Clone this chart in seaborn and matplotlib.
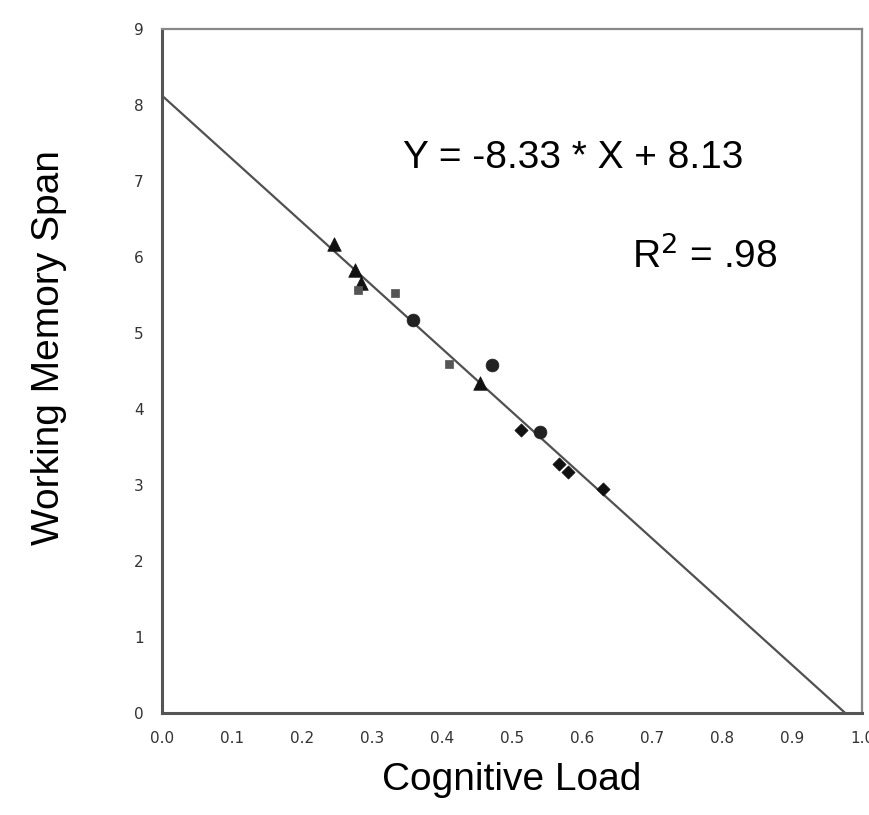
import numpy as np
import pandas as pd
import seaborn as sns
import matplotlib.pyplot as plt

# data (cognitive load vs working memory span)
tri_x = [0.246, 0.276, 0.284, 0.454]
tri_y = [6.18, 5.83, 5.66, 4.34]
sq_x = [0.280, 0.333, 0.410]
sq_y = [5.57, 5.53, 4.60]
circ_x = [0.358, 0.471, 0.540]
circ_y = [5.17, 4.58, 3.70]
dia_x = [0.513, 0.567, 0.580, 0.630]
dia_y = [3.72, 3.28, 3.18, 2.95]

slope = -8.33
intercept = 8.13
x_ticks = [0.0, 0.1, 0.2, 0.3, 0.4, 0.5, 0.6, 0.7, 0.8, 0.9, 1.0]
y_ticks = [0, 1, 2, 3, 4, 5, 6, 7, 8, 9]

sns.set_style("white")
plt.rcParams['font.family'] = ['Liberation Sans', 'DejaVu Sans']

fig = plt.figure(figsize=(8.7, 8.15), dpi=100)
ax = fig.add_axes([0.186, 0.125, 0.805, 0.839])

# fitted line
line_x = np.array([0.0, -intercept / slope])
sns.lineplot(x=line_x, y=slope * line_x + intercept, ax=ax, color='#505050', lw=1.6)

groups = [
    (tri_x, tri_y, '^', 95, '#111111'),
    (sq_x, sq_y, 's', 30, '#555555'),
    (circ_x, circ_y, 'o', 85, '#222222'),
    (dia_x, dia_y, 'D', 45, '#111111'),
]
for gx, gy, m, s, c in groups:
    df = pd.DataFrame({'x': gx, 'y': gy})
    sns.scatterplot(data=df, x='x', y='y', marker=m, s=s, color=c,
                    edgecolor=c, linewidth=0.5, ax=ax, zorder=3)

ax.set_xlim(0, 1.0)
ax.set_ylim(0, 9)
ax.set_xticks(x_ticks)
ax.set_xticklabels([f"{t:.1f}" for t in x_ticks])
ax.set_yticks(y_ticks)
ax.set_yticklabels([str(t) for t in y_ticks])
ax.tick_params(axis='both', direction='out', length=5, width=1.2, color='#555555',
               labelsize=11, labelcolor='#333333', pad=8)
for lab in ax.get_xticklabels() + ax.get_yticklabels():
    lab.set_family('DejaVu Sans')

for side in ['left', 'bottom']:
    ax.spines[side].set_color('#555555')
    ax.spines[side].set_linewidth(2.2)
for side in ['top', 'right']:
    ax.spines[side].set_color('#888888')
    ax.spines[side].set_linewidth(1.6)

ax.set_xlabel('Cognitive Load', fontsize=28, color='black')
ax.set_ylabel('Working Memory Span', fontsize=28, color='black')
ax.xaxis.set_label_coords(0.5, -0.072)
ax.yaxis.set_label_coords(-0.136, 0.535)

ax.text(0.344, 7.18, 'Y = -8.33 * X + 8.13', fontsize=28, ha='left', va='baseline', color='black')
ax.text(0.879, 5.86, 'R$^{2}$ = .98', fontsize=28, ha='right', va='baseline', color='black')

fig.savefig('out.png', dpi=100)
